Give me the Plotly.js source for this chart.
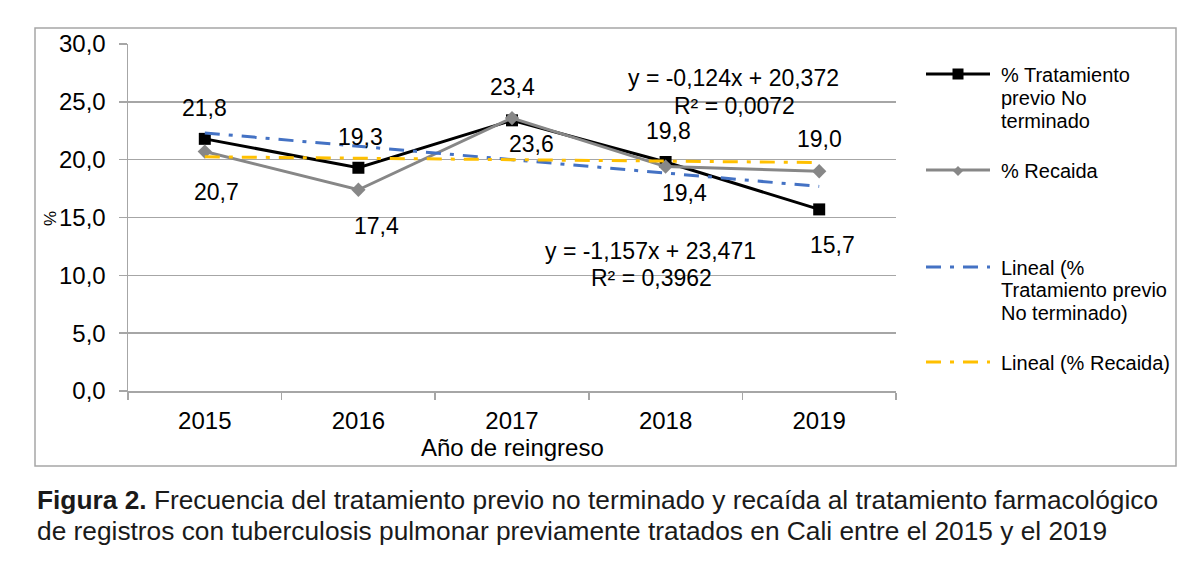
<!DOCTYPE html>
<html>
<head>
<meta charset="utf-8">
<script src="https://cdn.plot.ly/plotly-3.0.1.min.js"></script>
<style>
  html, body { margin: 0; padding: 0; background: #fff; }
  #chart { width: 1200px; height: 573px; }
</style>
</head>
<body>
<div id="chart"></div>
<script>
// Años de reingreso
const years = ['2015', '2016', '2017', '2018', '2019'];

// Porcentajes por año
const noTerminado = [21.8, 19.3, 23.4, 19.8, 15.7];
const recaida = [20.7, 17.4, 23.6, 19.4, 19.0];

// Coeficientes de las líneas de tendencia (x = 1..5)
const slopeNoTerminado = -1.157;
const interceptNoTerminado = 23.471;
const r2NoTerminado = 0.3962;
const slopeRecaida = -0.124;
const interceptRecaida = 20.372;
const r2Recaida = 0.0072;

// Textos de la leyenda (una entrada por serie, partida en renglones)
const legendLines = [
  ['% Tratamiento', 'previo No', 'terminado'],
  ['% Recaida'],
  ['Lineal (%', 'Tratamiento previo', 'No terminado)'],
  ['Lineal (% Recaida)']
];
const seriesNames = [
  '% Tratamiento previo No terminado',
  '% Recaida',
  'Lineal (% Tratamiento previo No terminado)',
  'Lineal (% Recaida)'
];

const captionBold = 'Figura 2.';
const captionLine1 = ' Frecuencia del tratamiento previo no terminado y recaída al tratamiento farmacológico';
const captionLine2 = 'de registros con tuberculosis pulmonar previamente tratados en Cali entre el 2015 y el 2019';

// ---- geometry of the plotting area (px) ----
const W = 1200, H = 573;
const M = { l: 128, r: 304, t: 44, b: 182 };
const PW = W - M.l - M.r, PH = H - M.t - M.b;
const px2x = px => (px - M.l) / PW;
const py2y = py => (H - M.b - py) / PH;

const FONT = 'Liberation Sans, Arial, sans-serif';
const fmt = (v, d) => v.toFixed(d).replace('.', ',');

const trendValues = (slope, intercept) => years.map((_, i) => slope * (i + 1) + intercept);

const colBlack = '#000000';
const colGray = '#878787';
const colBlue = '#4472C4';
const colYellow = '#FFC000';
const trendDash = '15px,9px,4px,9px';

const traces = [
  {
    x: years, y: noTerminado, name: seriesNames[0], type: 'scatter', mode: 'lines+markers',
    line: { color: colBlack, width: 3 },
    marker: { symbol: 'square', size: 12, color: colBlack }
  },
  {
    x: years, y: recaida, name: seriesNames[1], type: 'scatter', mode: 'lines+markers',
    line: { color: colGray, width: 3 },
    marker: { symbol: 'diamond', size: 11, color: colGray }
  },
  {
    x: years, y: trendValues(slopeNoTerminado, interceptNoTerminado), name: seriesNames[2],
    type: 'scatter', mode: 'lines',
    line: { color: colBlue, width: 3, dash: trendDash }
  },
  {
    x: years, y: trendValues(slopeRecaida, interceptRecaida), name: seriesNames[3],
    type: 'scatter', mode: 'lines',
    line: { color: colYellow, width: 3, dash: trendDash }
  }
];

// placement of each value label relative to its point: [dx, dy] in px (dy > 0 = below)
const labelOffsetNoTerminado = [[0, -31], [2, -31], [0, -33], [3, -31], [13, 36]];
const labelOffsetRecaida = [[12, 40], [18, 36], [19, 26], [19, 26], [0, -32]];

const annotations = [];
function addValueLabels(values, offsets) {
  values.forEach((v, i) => {
    annotations.push({
      x: i, y: v, xref: 'x', yref: 'y', text: fmt(v, 1), showarrow: false,
      xanchor: 'center', yanchor: 'middle',
      xshift: offsets[i][0], yshift: -offsets[i][1],
      font: { family: FONT, size: 23, color: '#000' }
    });
  });
}
addValueLabels(noTerminado, labelOffsetNoTerminado);
addValueLabels(recaida, labelOffsetRecaida);

function addText(text, px, py, opts) {
  annotations.push(Object.assign({
    xref: 'paper', yref: 'paper', x: px2x(px), y: py2y(py), text: text, showarrow: false,
    xanchor: 'center', yanchor: 'middle',
    font: { family: FONT, size: 23, color: '#000' }
  }, opts || {}));
}

// trend equations
addText('y = ' + fmt(slopeRecaida, 3) + 'x + ' + fmt(interceptRecaida, 3), 733, 78);
addText('R² = ' + fmt(r2Recaida, 4), 734, 106);
addText('y = ' + fmt(slopeNoTerminado, 3) + 'x + ' + fmt(interceptNoTerminado, 3), 650, 251);
addText('R² = ' + fmt(r2NoTerminado, 4), 651, 278);

// axis titles
addText('Año de reingreso', 512, 447, { font: { family: FONT, size: 24, color: '#000' } });
addText('%', 50, 219, { textangle: -90, font: { family: FONT, size: 17, color: '#000' } });

// legend
const legendRowY = [[75, 98, 121], [171], [268, 290, 313], [363]];
const legendColors = [colBlack, colGray, colBlue, colYellow];
const shapes = [];
legendLines.forEach((lines, k) => {
  lines.forEach((t, j) => {
    addText(t, 999, legendRowY[k][j], {
      xanchor: 'left', font: { family: FONT, size: 20, color: '#000' }
    });
  });
  const ly = py2y(legendRowY[k][0] - 1);
  shapes.push({
    type: 'line', xref: 'paper', yref: 'paper', x0: px2x(926), x1: px2x(990), y0: ly, y1: ly,
    line: { color: legendColors[k], width: 3, dash: k >= 2 ? trendDash : 'solid' }
  });
});
// legend markers
(function () {
  const cx = px2x(958), cy = py2y(74);
  shapes.push({
    type: 'rect', xref: 'paper', yref: 'paper', xsizemode: 'pixel', ysizemode: 'pixel',
    xanchor: cx, yanchor: cy, x0: -5.5, x1: 5.5, y0: -5.5, y1: 5.5,
    fillcolor: colBlack, line: { width: 0 }
  });
  const dy = py2y(171);
  shapes.push({
    type: 'path', xref: 'paper', yref: 'paper', xsizemode: 'pixel', ysizemode: 'pixel',
    xanchor: cx, yanchor: dy, path: 'M -5 0 L 0 5 L 5 0 L 0 -5 Z',
    fillcolor: colGray, line: { width: 0 }
  });
})();

// outer frame
shapes.push({
  type: 'rect', xref: 'paper', yref: 'paper', layer: 'below',
  x0: px2x(35), x1: px2x(1176), y0: py2y(466), y1: py2y(28),
  line: { color: '#a6a6a6', width: 1.5 }, fillcolor: 'rgba(0,0,0,0)'
});

// caption
addText('<b>' + captionBold + '</b>' + captionLine1, 35, 500, {
  xanchor: 'left', font: { family: FONT, size: 26.3, color: '#1a1a1a' }
});
addText(captionLine2, 35, 531, {
  xanchor: 'left', font: { family: FONT, size: 26.3, color: '#1a1a1a' }
});

const layout = {
  width: W, height: H,
  margin: M,
  paper_bgcolor: '#fff', plot_bgcolor: '#fff',
  showlegend: false,
  separators: ',.',
  font: { family: FONT, color: '#000' },
  xaxis: {
    type: 'category', range: [-0.5, 4.5],
    showline: true, linecolor: '#a6a6a6', linewidth: 1.5,
    ticks: 'outside', tickson: 'boundaries', ticklen: 7, tickcolor: '#a6a6a6', tickwidth: 1.5,
    showgrid: false, zeroline: false,
    ticklabelstandoff: 8,
    tickfont: { family: FONT, size: 24, color: '#000' }
  },
  yaxis: {
    range: [0, 30], dtick: 5, tick0: 0, tickformat: '.1f',
    showline: true, linecolor: '#a6a6a6', linewidth: 1.5,
    ticks: 'outside', ticklen: 8, tickcolor: '#a6a6a6', tickwidth: 1.5,
    showgrid: true, gridcolor: '#a6a6a6', gridwidth: 1.5, zeroline: false,
    ticklabelstandoff: 8,
    tickfont: { family: FONT, size: 24, color: '#000' }
  },
  annotations: annotations,
  shapes: shapes
};

Plotly.newPlot('chart', traces, layout, { staticPlot: true, displayModeBar: false });
</script>
</body>
</html>
